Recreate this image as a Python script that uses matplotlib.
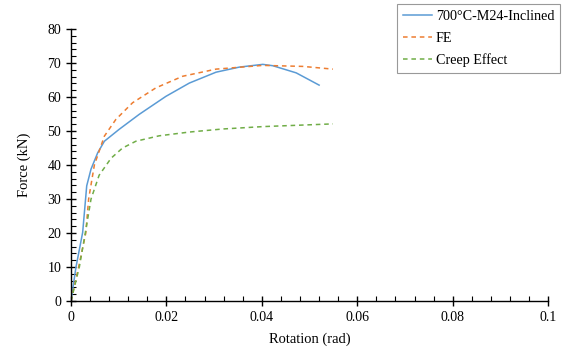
import matplotlib
matplotlib.use("Agg")
import matplotlib.pyplot as plt
from matplotlib.ticker import MultipleLocator

plt.rcParams['font.family'] = ['Liberation Serif', 'DejaVu Serif']

test_x = [0, 0.00105, 0.00245, 0.0033, 0.0042, 0.0056, 0.007, 0.0101, 0.0143, 0.0199, 0.0248, 0.0304, 0.0353, 0.0402, 0.0423, 0.0472, 0.052]
test_y = [0, 10, 20.2, 33.9, 38.8, 43.6, 47, 50.5, 54.9, 60.2, 64.1, 67.3, 68.8, 69.6, 69.2, 67.1, 63.5]

fe_x = [0, 0.0016, 0.0031, 0.0037, 0.0049, 0.007, 0.0094, 0.0129, 0.0178, 0.0234, 0.0304, 0.0402, 0.0486, 0.0549]
fe_y = [0, 10, 20, 30, 40, 48.5, 53.4, 58.3, 62.7, 66.1, 68.2, 69.3, 69.0, 68.2]

creep_x = [0, 0.00175, 0.003, 0.0042, 0.0059, 0.0084, 0.0108, 0.0136, 0.0185, 0.0248, 0.0318, 0.0402, 0.0549]
creep_y = [0, 10, 20, 30, 37, 42, 45, 47, 48.6, 49.7, 50.6, 51.3, 52.1]

x_ticks = [0, 0.02, 0.04, 0.06, 0.08, 0.1]
x_tick_labels = ['0', '0.02', '0.04', '0.06', '0.08', '0.1']

fig = plt.figure(figsize=(5.71, 3.58), dpi=100)
ax = fig.add_axes([0.1243, 0.159, 0.8357, 0.760])

l1, = ax.plot(test_x, test_y, color='#5B9BD5', lw=1.1, label='700°C-M24-Inclined')
l2, = ax.plot(fe_x, fe_y, color='#ED7D31', lw=1.1, ls=(0, (3, 2.5)), label='FE')
l3, = ax.plot(creep_x, creep_y, color='#70AD47', lw=1.1, ls=(0, (3, 2.5)), label='Creep Effect')

ax.set_xlim(0, 0.1)
ax.set_ylim(0, 80)
ax.set_xticks(x_ticks)
ax.set_xticklabels(x_tick_labels)
ax.xaxis.set_minor_locator(MultipleLocator(0.004))
ax.yaxis.set_major_locator(MultipleLocator(10))
ax.yaxis.set_minor_locator(MultipleLocator(2))
ax.tick_params(which='major', direction='inout', length=7, width=1, labelsize=10, colors='black')
ax.tick_params(which='minor', direction='in', length=3.5, width=0.8)
for s in ['top', 'right']:
    ax.spines[s].set_visible(False)
for s in ['left', 'bottom']:
    ax.spines[s].set_linewidth(1.0)
ax.set_xlabel('Rotation (rad)', fontsize=10.5, labelpad=6)
ax.set_ylabel('Force (kN)', fontsize=10.5, labelpad=12)

leg = fig.legend(handles=[l1, l2, l3], loc='upper left', bbox_to_anchor=(0.695, 0.988),
                 borderaxespad=0, fontsize=10.2, frameon=True, fancybox=False, edgecolor='#808080',
                 handlelength=2.1, handletextpad=0.25, borderpad=0.4, labelspacing=0.62)
leg.get_frame().set_linewidth(0.8)

fig.savefig('out.png', dpi=100)
